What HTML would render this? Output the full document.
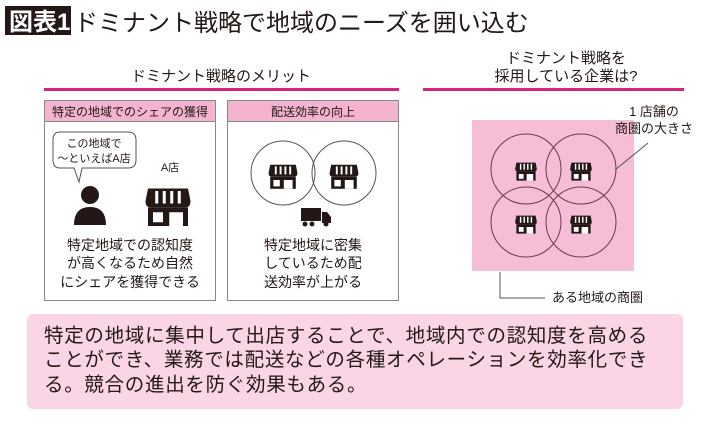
<!DOCTYPE html>
<html><head><meta charset="utf-8"><style>
body{margin:0;background:#fff;}
svg text{font-family:"Liberation Sans","Noto Sans CJK JP",sans-serif;fill:#231815;}
</style></head><body>
<svg width="710" height="421" viewBox="0 0 710 421" xmlns="http://www.w3.org/2000/svg">
<defs>
<g id="store">
<path d="M-16,-14 L16,-14 L18,-4 Q18,1 14,1 L-14,1 Q-18,1 -18,-4 Z" fill="#231815"/>
<path d="M-9,-12 L-9,-2 M-3,-12 L-3,-2 M3,-12 L3,-2 M9,-12 L9,-2" stroke="#fff" stroke-width="2.4"/>
<rect x="-16" y="1" width="32" height="15" fill="#231815"/>
<rect x="-12" y="5" width="8" height="8" fill="#fff"/>
<rect x="1" y="5" width="11" height="11" fill="#fff"/>
</g>
</defs>
<!-- title -->
<rect x="5" y="6" width="66" height="29" fill="#231815"/>
<text x="9" y="30" font-size="24" font-weight="bold" style="fill:#fff">図表1</text>
<text x="74" y="31" font-size="24">ドミナント戦略で地域のニーズを囲い込む</text>

<!-- left heading -->
<text x="221" y="81" font-size="15" text-anchor="middle">ドミナント戦略のメリット</text>
<rect x="44" y="88" width="355" height="3" fill="#d6237f"/>

<!-- box1 -->
<rect x="44.5" y="100.5" width="171" height="200" fill="#fff" stroke="#888"/>
<rect x="44.5" y="100.5" width="171" height="21" fill="#f4b3cf" stroke="#888"/>
<text x="130" y="116" font-size="12" text-anchor="middle">特定の地域でのシェアの獲得</text>
<path d="M60,132 H128 Q136,132 136,140 V160 Q136,168 128,168 H82 L79,182 L74,168 H60 Q53,168 53,160 V140 Q53,132 60,132 Z" fill="#fff" stroke="#555"/>
<text x="94" y="147" font-size="11" text-anchor="middle">この地域で</text>
<text x="94" y="162" font-size="11" text-anchor="middle">～といえばA店</text>
<circle cx="90" cy="195" r="9" fill="#231815"/>
<path d="M74,225 Q74,207 90,207 Q106,207 106,225 Z" fill="#231815"/>
<text x="170" y="171" font-size="11" text-anchor="middle">A店</text>
<use href="#store" transform="translate(168,206) scale(1.25)"/>
<text x="130" y="250" font-size="14" text-anchor="middle">特定地域での認知度</text>
<text x="130" y="268" font-size="14" text-anchor="middle">が高くなるため自然</text>
<text x="130" y="287" font-size="14" text-anchor="middle">にシェアを獲得できる</text>

<!-- box2 -->
<rect x="227.5" y="100.5" width="171" height="200" fill="#fff" stroke="#888"/>
<rect x="227.5" y="100.5" width="171" height="21" fill="#f4b3cf" stroke="#888"/>
<text x="313" y="116" font-size="12" text-anchor="middle">配送効率の向上</text>
<circle cx="283" cy="173" r="32" fill="none" stroke="#555"/>
<circle cx="344" cy="173" r="32" fill="none" stroke="#555"/>
<use href="#store" transform="translate(283,176) scale(0.8)"/>
<use href="#store" transform="translate(344,176) scale(0.8)"/>
<rect x="301" y="208" width="20" height="13" fill="#231815"/>
<path d="M322,212 H327 L331,217 V223 H322 Z" fill="#231815"/>
<circle cx="305" cy="224" r="2.5" fill="#231815"/><circle cx="312" cy="224" r="2.5" fill="#231815"/><circle cx="326" cy="224" r="2.5" fill="#231815"/>
<text x="313" y="250" font-size="14" text-anchor="middle">特定地域に密集</text>
<text x="313" y="268" font-size="14" text-anchor="middle">しているため配</text>
<text x="313" y="287" font-size="14" text-anchor="middle">送効率が上がる</text>

<!-- right -->
<text x="566" y="63" font-size="15" text-anchor="middle">ドミナント戦略を</text>
<text x="566" y="81" font-size="15" text-anchor="middle">採用している企業は?</text>
<rect x="423" y="88" width="261" height="3" fill="#d6237f"/>
<rect x="472" y="120" width="162" height="151" fill="#f6bdd6"/>
<g fill="none" stroke="#6b3a4a" stroke-width="1">
<circle cx="526" cy="169" r="35"/><circle cx="581" cy="169" r="35"/>
<circle cx="526" cy="222" r="35"/><circle cx="581" cy="222" r="35"/>
</g>
<use href="#store" transform="translate(526,171) scale(0.6)"/>
<use href="#store" transform="translate(581,171) scale(0.6)"/>
<use href="#store" transform="translate(526,224) scale(0.6)"/>
<use href="#store" transform="translate(581,224) scale(0.6)"/>
<text x="654" y="116" font-size="13" text-anchor="middle">1 店舗の</text>
<text x="654" y="133" font-size="13" text-anchor="middle">商圏の大きさ</text>
<line x1="615" y1="170" x2="648" y2="143" stroke="#555"/>
<path d="M500,272 V298 H545" fill="none" stroke="#555"/>
<text x="552" y="302" font-size="13">ある地域の商圏</text>

<!-- bottom -->
<rect x="27" y="314" width="656" height="95" rx="6" fill="#f9d5e5"/>
<text x="44" y="342" font-size="19.5" letter-spacing="0.7">特定の地域に集中して出店することで、地域内での認知度を高める</text>
<text x="44" y="366" font-size="19.5" letter-spacing="0.7">ことができ、業務では配送などの各種オペレーションを効率化でき</text>
<text x="44" y="391" font-size="19.5" letter-spacing="0.7">る。競合の進出を防ぐ効果もある。</text>
</svg>
</body></html>
